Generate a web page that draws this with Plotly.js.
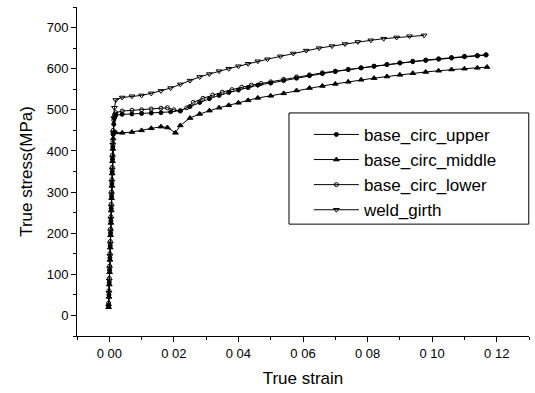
<!DOCTYPE html>
<html>
<head>
<meta charset="utf-8">
<script src="https://cdn.plot.ly/plotly-3.0.1.min.js"></script>
<style>html,body{margin:0;padding:0;background:#fff;}#chart{width:535px;height:393px;}</style>
</head>
<body>
<div id="chart"></div>
<script>
// Tick labels (as printed in the scan)
const xTickVals = [0, 0.02, 0.04, 0.06, 0.08, 0.10, 0.12];
const xTickText = ["0 00", "0 02", "0 04", "0 06", "0 08", "0 10", "0 12"];
const yTickVals = [0, 100, 200, 300, 400, 500, 600, 700];

// base_circ_upper
const upperStrain = [-0.0002, -0.0001, 0.0000, 0.0001, 0.0002, 0.0003, 0.0004, 0.0005, 0.0006, 0.0007, 0.0008, 0.0009, 0.0010, 0.0011, 0.0012, 0.0014, 0.0016,
  0.002, 0.004, 0.007, 0.010, 0.013, 0.016, 0.019, 0.022, 0.025, 0.028, 0.031, 0.034, 0.037, 0.040, 0.043, 0.046, 0.050, 0.054, 0.058, 0.062, 0.066, 0.070, 0.074, 0.078, 0.082, 0.086, 0.090, 0.094, 0.098, 0.102, 0.106, 0.110, 0.114, 0.1167];
const upperStress = [25, 50, 80, 110, 140, 170, 200, 230, 260, 290, 320, 350, 380, 410, 440, 465, 480,
  487, 489, 490, 491, 492, 493, 495, 498, 508, 518, 527, 535, 542, 548, 554, 560, 565, 571, 577, 583, 588, 593, 598, 602, 606, 610, 614, 618, 621, 624, 627, 630, 632, 634];

// base_circ_middle
const middleStrain = [-0.0002, -0.0001, 0.0000, 0.0001, 0.0002, 0.0003, 0.0004, 0.0005, 0.0006, 0.0007, 0.0008, 0.0009, 0.0010, 0.0011, 0.0012, 0.0014,
  0.002, 0.004, 0.007, 0.010, 0.013, 0.016, 0.018, 0.0205, 0.022, 0.025, 0.028, 0.031, 0.034, 0.037, 0.040, 0.043, 0.046, 0.050, 0.054, 0.058, 0.062, 0.066, 0.070, 0.074, 0.078, 0.082, 0.086, 0.090, 0.094, 0.098, 0.102, 0.106, 0.110, 0.114, 0.117];
const middleStress = [20, 45, 75, 105, 135, 165, 195, 225, 255, 285, 315, 345, 375, 405, 430, 445,
  445, 444, 446, 450, 455, 459, 457, 444, 462, 480, 490, 498, 505, 511, 517, 523, 529, 534, 540, 547, 553, 558, 563, 568, 573, 577, 581, 585, 589, 592, 595, 598, 600, 602, 604];

// base_circ_lower
const lowerStrain = [-0.0002, -0.0001, 0.0000, 0.0001, 0.0002, 0.0003, 0.0004, 0.0005, 0.0006, 0.0007, 0.0008, 0.0009, 0.0010, 0.0011, 0.0012, 0.0014, 0.0016,
  0.002, 0.004, 0.007, 0.010, 0.013, 0.016, 0.018, 0.020, 0.022, 0.024, 0.026, 0.029, 0.032, 0.035, 0.038, 0.041, 0.044, 0.047, 0.050, 0.054, 0.058, 0.062, 0.066, 0.070, 0.074, 0.078, 0.082, 0.086, 0.090, 0.094, 0.098, 0.102, 0.106, 0.110, 0.114, 0.1167];
const lowerStress = [30, 60, 90, 120, 150, 180, 210, 240, 270, 300, 330, 360, 390, 420, 450, 475, 488,
  493, 497, 499, 500, 502, 504, 505, 500, 497, 505, 518, 528, 536, 543, 549, 555, 560, 564, 568, 574, 580, 585, 590, 594, 598, 602, 606, 610, 614, 617, 620, 623, 626, 629, 631, 633];

// weld_girth
const weldStrain = [-0.0002, -0.0001, 0.0000, 0.0001, 0.0002, 0.0003, 0.0004, 0.0005, 0.0006, 0.0007, 0.0008, 0.0009, 0.0010, 0.0011, 0.0012, 0.0014, 0.0016,
  0.002, 0.004, 0.007, 0.010, 0.013, 0.016, 0.019, 0.022, 0.025, 0.028, 0.031, 0.034, 0.037, 0.040, 0.043, 0.046, 0.049, 0.053, 0.057, 0.061, 0.065, 0.069, 0.073, 0.077, 0.081, 0.085, 0.089, 0.093, 0.0975];
const weldStress = [22, 55, 85, 115, 145, 175, 205, 235, 265, 295, 325, 355, 385, 415, 445, 480, 505,
  524, 530, 533, 535, 540, 546, 553, 562, 571, 580, 587, 594, 600, 606, 612, 618, 623, 630, 637, 644, 650, 655, 660, 665, 669, 673, 676, 679, 681];

const seriesNames = ["base_circ_upper", "base_circ_middle", "base_circ_lower", "weld_girth"];

const common = {type: "scatter", mode: "lines+markers", line: {color: "#000", width: 1}};
const traces = [
  Object.assign({}, common, {name: seriesNames[0], x: upperStrain, y: upperStress,
    marker: {symbol: "circle", size: 4, color: "#000", line: {color: "#000", width: 1}}}),
  Object.assign({}, common, {name: seriesNames[1], x: middleStrain, y: middleStress,
    marker: {symbol: "triangle-up", size: 5, color: "#000", line: {color: "#000", width: 1}}}),
  Object.assign({}, common, {name: seriesNames[2], x: lowerStrain, y: lowerStress,
    marker: {symbol: "circle-open", size: 4, color: "#000", line: {color: "#000", width: 1}}}),
  Object.assign({}, common, {name: seriesNames[3], x: weldStrain, y: weldStress,
    marker: {symbol: "triangle-down-open", size: 5, color: "#000", line: {color: "#000", width: 1}}})
];

const fontFam = "Liberation Sans, Arial, sans-serif";
const layout = {
  width: 535, height: 393,
  margin: {l: 77, r: 6, t: 7, b: 57},
  paper_bgcolor: "#fff", plot_bgcolor: "#fff",
  font: {family: fontFam, color: "#000", size: 13},
  showlegend: true,
  legend: {
    x: 0.513, y: 0.666, xanchor: "left", yanchor: "top",
    bordercolor: "#000", borderwidth: 0, bgcolor: "rgba(0,0,0,0)",
    font: {family: fontFam, size: 17, color: "#000"},
    itemwidth: 45,
    tracegroupgap: 0
  },
  shapes: [{
    type: "rect", xref: "paper", yref: "paper",
    x0: 0.469, x1: 0.9995, y0: 0.34, y1: 0.678,
    line: {color: "#000", width: 1}, fillcolor: "rgba(0,0,0,0)", layer: "below"
  }],
  xaxis: {
    range: [-0.01, 0.13], showgrid: false, zeroline: false,
    showline: true, linecolor: "#000", linewidth: 1,
    ticks: "outside", ticklen: 5, tickcolor: "#000",
    tickmode: "array", tickvals: xTickVals, ticktext: xTickText,
    tickfont: {size: 13},
    minor: {tickmode: "linear", tick0: -0.01, dtick: 0.01, ticks: "outside", ticklen: 3, tickcolor: "#000", showgrid: false},
    title: {text: "True strain", font: {size: 17}, standoff: 12}
  },
  yaxis: {
    range: [-50, 750], showgrid: false, zeroline: false,
    showline: true, linecolor: "#000", linewidth: 1,
    ticks: "outside", ticklen: 5, tickcolor: "#000",
    tickmode: "array", tickvals: yTickVals,
    tickfont: {size: 13},
    minor: {tickmode: "linear", tick0: -50, dtick: 50, ticks: "outside", ticklen: 3, tickcolor: "#000", showgrid: false},
    title: {text: "True stress(MPa)", font: {size: 17}, standoff: 9}
  }
};

Plotly.newPlot("chart", traces, layout, {displayModeBar: false, staticPlot: true});
</script>
</body>
</html>
